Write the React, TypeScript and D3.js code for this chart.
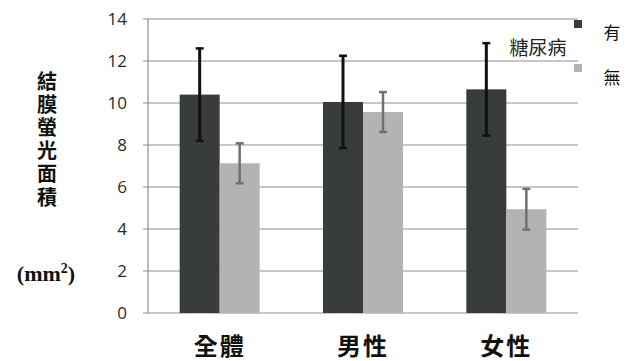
import React from "react";
import * as d3 from "d3";

const categories = ["全體", "男性", "女性"];
const seriesNames = ["有", "無"];
const withDiabetes = [10.4, 10.05, 10.65];
const withDiabetesErr = [2.2, 2.2, 2.2];
const withoutDiabetes = [7.13, 9.57, 4.94];
const withoutDiabetesErr = [0.95, 0.95, 0.97];
const yTicks = [0, 2, 4, 6, 8, 10, 12, 14];
const yLabel = "結膜螢光面積";
const legendTitle = "糖尿病";

const W = 634;
const H = 361;
const plotLeft = 148;
const plotRight = 578;
const plotTop = 19;
const plotBottom = 313;
const colors = ["#383d3a", "#b3b3b3"];
const errColors = ["#111111", "#707070"];

export default function App() {
  const x = d3.scaleBand<string>().domain(categories).range([plotLeft, plotRight]).paddingInner(0).paddingOuter(0);
  const y = d3.scaleLinear().domain([0, 14]).range([plotBottom, plotTop]);
  const barW = 40;
  const series = [
    { vals: withDiabetes, errs: withDiabetesErr },
    { vals: withoutDiabetes, errs: withoutDiabetesErr },
  ];
  const cjk = "'Noto Sans CJK TC', 'Noto Sans CJK SC', sans-serif";
  return (
    <svg
      width={W}
      height={H}
      style={{ position: "absolute", left: 0, top: 0, background: "#fff" }}
    >
      {yTicks.map((t) => (
        <g key={t}>
          <line x1={plotLeft - 5} x2={plotRight} y1={y(t)} y2={y(t)} stroke="#8f8f8f" strokeWidth={1.2} />
          <text
            x={127}
            y={y(t)}
            dy="0.35em"
            textAnchor="end"
            fontFamily="'Open Sans', 'Liberation Sans', sans-serif"
            fontSize={17}
            fill="#2a2a2a"
          >
            {t}
          </text>
        </g>
      ))}
      <line x1={plotLeft} x2={plotLeft} y1={plotTop} y2={plotBottom} stroke="#8f8f8f" strokeWidth={1.2} />
      {series.map((s, si) =>
        categories.map((c, ci) => {
          const cx = (x(c) as number) + x.bandwidth() / 2;
          const bx = cx - barW + si * barW;
          return (
            <rect
              key={`${si}-${ci}`}
              x={bx}
              y={y(s.vals[ci])}
              width={barW}
              height={y(0) - y(s.vals[ci])}
              fill={colors[si]}
            />
          );
        })
      )}
      {series.map((s, si) =>
        categories.map((c, ci) => {
          const cx = (x(c) as number) + x.bandwidth() / 2;
          const ex = cx - barW / 2 + si * barW;
          const hi = y(s.vals[ci] + s.errs[ci]);
          const lo = y(s.vals[ci] - s.errs[ci]);
          return (
            <g key={`e-${si}-${ci}`} stroke={errColors[si]}>
              <line x1={ex} x2={ex} y1={hi} y2={lo} strokeWidth={si === 0 ? 3 : 2.5} />
              <line x1={ex - 4} x2={ex + 4} y1={hi} y2={hi} strokeWidth={2.5} />
              <line x1={ex - 4} x2={ex + 4} y1={lo} y2={lo} strokeWidth={2.5} />
            </g>
          );
        })
      )}
      {categories.map((c) => (
        <text
          key={c}
          x={(x(c) as number) + x.bandwidth() / 2}
          y={355}
          textAnchor="middle"
          fontFamily={cjk}
          fontWeight="bold"
          fontSize={24}
          letterSpacing={2}
          fill="#111"
        >
          {c}
        </text>
      ))}
      <text
        x={47}
        y={71}
        style={{ writingMode: "vertical-rl" } as React.CSSProperties}
        fontFamily={cjk}
        fontWeight="bold"
        fontSize={20}
        letterSpacing={3.2}
        fill="#111"
      >
        {yLabel}
      </text>
      <text
        x={46}
        y={281}
        textAnchor="middle"
        fontFamily="'Liberation Serif', 'DejaVu Serif', serif"
        fontWeight="bold"
        fontSize={22}
        fill="#111"
      >
        (mm<tspan dy={-8} fontSize={14}>2</tspan><tspan dy={8}>)</tspan>
      </text>
      {seriesNames.map((n, i) => (
        <g key={n}>
          <rect x={574} y={20 + i * 44} width={8} height={8} fill={colors[i]} />
          <text
            x={612}
            y={33 + i * 45}
            dy="0.36em"
            textAnchor="middle"
            fontFamily={cjk}
            fontSize={17}
            fill="#111"
          >
            {n}
          </text>
        </g>
      ))}
      <text
        x={538}
        y={48}
        dy="0.36em"
        textAnchor="middle"
        fontFamily={cjk}
        fontSize={19}
        fill="#222"
      >
        {legendTitle}
      </text>
    </svg>
  );
}
